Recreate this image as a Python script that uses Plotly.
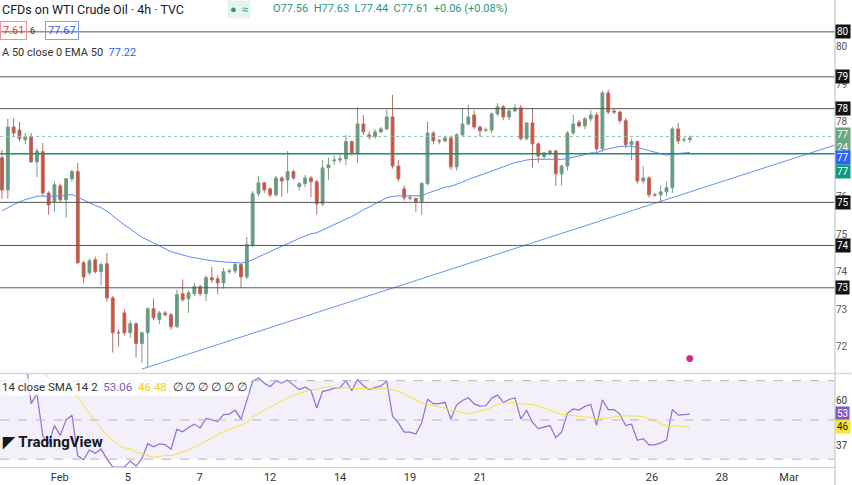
import numpy as np
import pandas as pd
import plotly.graph_objects as go

opens = [77.04,76.18,77.86,77.78,77.52,77.60,76.93,77.20,76.10,75.87,76.29,75.92,76.48,76.67,74.24,73.97,74.32,74.00,74.21,73.30,
         72.37,72.90,72.37,72.61,72.08,72.37,73.01,72.72,72.90,72.85,72.53,73.41,73.28,73.41,73.60,73.41,73.84,73.81,73.70,74.00,
         74.02,74.19,73.86,74.72,76.08,76.37,76.21,76.05,76.50,76.45,76.67,76.27,76.35,76.50,76.40,75.81,76.77,76.96,76.98,77.01,
         77.47,77.15,77.94,77.65,77.60,77.73,77.81,78.13,76.82,76.21,75.97,75.95,75.87,76.35,77.70,77.49,77.49,77.57,76.80,77.65,
         77.94,78.18,77.86,77.78,77.78,78.21,78.40,78.13,78.29,78.37,77.55,77.97,77.41,77.07,77.17,77.22,76.61,76.82,77.70,77.99,
         77.89,78.08,78.18,77.28,78.77,78.29,78.26,78.03,77.39,77.47,76.42,76.50,76.05,76.05,76.13,76.24,77.81,77.52,77.52]
closes = [76.18,77.86,77.70,77.55,77.60,76.93,77.22,76.10,75.78,76.32,75.92,76.48,76.67,74.24,73.86,74.29,74.00,74.19,73.30,72.37,
          72.37,72.37,72.61,72.08,72.37,73.01,72.77,72.90,72.85,72.53,73.39,73.25,73.44,73.60,73.41,73.84,73.78,73.70,74.00,74.02,
          74.19,73.86,74.72,76.08,76.37,76.18,76.05,76.50,76.42,76.67,76.50,76.35,76.50,76.40,75.81,76.77,76.85,76.98,77.01,77.47,
          77.15,77.94,77.73,77.60,77.73,77.81,78.13,76.82,76.48,75.97,75.97,75.87,76.35,77.70,77.49,77.49,77.57,76.80,77.65,77.94,
          78.13,77.86,77.76,77.78,78.21,78.40,78.13,78.29,78.37,77.55,77.97,77.41,77.09,77.17,77.22,76.61,76.82,77.70,77.94,77.89,
          78.08,78.18,77.28,78.77,78.26,78.26,78.03,77.39,77.47,76.42,76.50,76.05,76.05,76.13,76.24,77.81,77.49,77.52,77.57]
highs = [77.25,78.08,78.10,78.00,77.70,77.70,77.30,77.44,76.15,76.40,76.35,76.50,76.72,76.90,74.30,74.35,74.40,74.25,74.50,73.35,
         72.45,72.99,72.70,72.65,72.40,73.05,73.28,72.95,72.95,72.90,73.52,73.79,73.50,73.70,73.65,73.90,74.13,73.90,74.10,74.08,
         74.24,74.22,74.93,76.15,76.56,76.40,76.25,76.56,76.55,77.22,76.72,76.40,76.58,76.55,76.45,76.98,77.04,77.10,77.10,77.65,
         77.50,78.40,78.18,77.75,77.80,77.86,78.32,78.72,76.98,76.30,76.05,75.98,76.40,78.00,77.75,77.55,77.63,77.63,77.70,78.37,
         78.45,78.30,77.90,77.85,78.25,78.50,78.45,78.35,78.48,78.45,77.99,78.37,77.45,77.20,77.25,77.25,76.85,77.75,78.18,78.05,
         78.13,78.30,78.25,78.83,78.85,78.35,78.30,78.10,77.55,77.50,76.82,76.55,76.10,76.30,76.40,77.86,77.97,77.60,77.63]
lows = [75.95,75.95,77.60,77.47,77.40,76.90,76.53,76.00,75.52,75.60,75.85,75.44,76.40,74.20,73.70,73.90,73.95,73.65,73.20,71.84,
        72.00,72.30,72.24,71.71,71.57,71.44,72.70,72.60,72.80,72.45,72.50,73.20,72.90,73.35,73.35,73.22,73.70,73.40,73.55,73.95,
        73.95,73.57,73.80,74.65,76.00,76.10,75.98,76.00,76.00,76.10,76.45,76.16,76.25,75.99,75.52,75.75,76.45,76.85,76.90,76.85,
        77.10,76.90,77.65,77.52,77.55,77.70,77.78,76.75,76.40,75.90,75.90,75.60,75.52,76.30,77.40,77.40,77.45,76.72,76.70,77.60,
        77.90,77.80,77.60,77.72,77.70,78.15,78.05,78.05,78.25,77.50,77.50,76.77,76.90,77.00,77.10,76.29,76.30,76.70,77.65,77.85,
        77.80,78.00,77.20,77.20,78.20,78.20,77.95,77.30,76.98,76.35,76.35,75.98,76.00,75.87,76.02,76.10,77.40,77.45,77.44]

level_prices = [80.40, 79.20, 78.35, 75.85, 74.70, 73.57]
level_labels = ["80", "79", "78", "75", "74", "73"]
teal_level = 77.15
last_price = 77.61
ema_seed = 75.60
trend_idx = [24, 142.9]
trend_price = [71.40, 77.38]
date_idx = [9.9, 21.6, 33.9, 46.0, 58.0, 70.0, 82.0, 111.5, 123.5, 135.0]
date_labels = ["Feb", "5", "7", "12", "14", "19", "21", "26", "28", "Mar"]

n = len(closes)
x = np.arange(n)

k = 2 / 51
ema = []
prev = ema_seed
for c in closes:
    prev = prev + k * (c - prev)
    ema.append(prev)

s = pd.Series(closes)
d = s.diff().fillna(0)
g = d.clip(lower=0).ewm(alpha=1/14, adjust=True).mean()
l = (-d.clip(upper=0)).ewm(alpha=1/14, adjust=True).mean()
rsi = 100 - 100 / (1 + g / l.replace(0, np.nan))
rsi = rsi.bfill()
rsi_sma = rsi.rolling(14, min_periods=1).mean()

GREEN = "#5f9e7c"
RED = "#d94b34"
FONT = "Roboto"

fig = go.Figure()
fig.add_trace(go.Candlestick(
    x=x, open=opens, high=highs, low=lows, close=closes, yaxis="y",
    increasing=dict(line=dict(color="#7a9a88", width=1), fillcolor=GREEN),
    decreasing=dict(line=dict(color="#b0706a", width=1), fillcolor=RED),
    whiskerwidth=0, showlegend=False, hoverinfo="skip"))
fig.add_trace(go.Scatter(x=x, y=ema, mode="lines", line=dict(color="#5b8cf5", width=1), yaxis="y", showlegend=False))
fig.add_trace(go.Scatter(x=trend_idx, y=trend_price, mode="lines", line=dict(color="#6a93f0", width=1), yaxis="y", showlegend=False))
fig.add_trace(go.Scatter(x=x, y=rsi, mode="lines", line=dict(color="#8e6fd8", width=1.2), yaxis="y2", showlegend=False))
fig.add_trace(go.Scatter(x=x, y=rsi_sma, mode="lines", line=dict(color="#f4e23c", width=1), yaxis="y2", showlegend=False))

shapes = []
X0, X1 = -0.34, 142.9
for p in level_prices:
    shapes.append(dict(type="line", xref="x", yref="y", x0=X0, x1=X1, y0=p, y1=p, line=dict(color="#555555", width=1)))
shapes.append(dict(type="line", xref="x", yref="y", x0=X0, x1=X1, y0=teal_level, y1=teal_level, line=dict(color="#17907a", width=1.5)))
shapes.append(dict(type="line", xref="x", yref="y", x0=X0, x1=X1, y0=last_price, y1=last_price, line=dict(color="#8fbfa5", width=1, dash="dot")))
shapes.append(dict(type="rect", xref="paper", yref="y2", x0=0, x1=1, y0=30, y1=70, fillcolor="rgba(126,87,194,0.09)", line=dict(width=0), layer="below"))
for v in [70, 50, 30]:
    shapes.append(dict(type="line", xref="paper", yref="y2", x0=0, x1=1, y0=v, y1=v, line=dict(color="#b5b5c0", width=1, dash="dash")))
shapes.append(dict(type="line", xref="paper", yref="paper", x0=0, x1=1.02, y0=0.2, y1=0.2, line=dict(color="#d6d6dc", width=1.5)))
shapes.append(dict(type="line", xref="paper", yref="paper", x0=1, x1=1, y0=-0.05, y1=1, line=dict(color="#d0d0d0", width=1.5)))

ann = []
def box(y, yref, text, bg, fg="white"):
    ann.append(dict(x=1.0, xref="paper", y=y, yref=yref, text=text, showarrow=False, xanchor="left",
                    font=dict(family=FONT, size=10, color=fg), bgcolor=bg, borderpad=1))
for p, t in zip(level_prices, level_labels):
    box(p, "y", t, "#131313")
box(77.50, "y", "77<br>24", "#6aa584")
box(77.05, "y", "77", "#2962ff")
box(76.68, "y", "77", "#0f9a80")
box(53.06, "y2", "53", "#7e57c2")
box(46.48, "y2", "46", "#f7e33b", "#222")

ann += [
    dict(x=0.0, y=1.0, xref="paper", yref="paper", xanchor="left", yanchor="top", showarrow=False, align="left",
         text="CFDs on WTI Crude Oil · 4h · TVC", font=dict(family=FONT, size=12.5, color="#131722")),
    dict(x=0.272, y=0.999, xref="paper", yref="paper", xanchor="left", yanchor="top", showarrow=False,
         text="●  ≈", font=dict(family=FONT, size=11, color="#1e9e86"), bgcolor="#e6f4f0", borderpad=2),
    dict(x=0.325, y=1.0, xref="paper", yref="paper", xanchor="left", yanchor="top", showarrow=False,
         text="O77.56  H77.63  L77.44  C77.61  +0.06 (+0.08%)", font=dict(family=FONT, size=11, color="#1f9a7c")),
    dict(x=0.0, y=0.955, xref="paper", yref="paper", xanchor="left", yanchor="top", showarrow=False,
         text="7.61", font=dict(family=FONT, size=11, color="#e04040"), bordercolor="#f09090", borderwidth=1, borderpad=2),
    dict(x=0.033, y=0.949, xref="paper", yref="paper", xanchor="left", yanchor="top", showarrow=False,
         text="6", font=dict(family=FONT, size=9, color="#333")),
    dict(x=0.054, y=0.955, xref="paper", yref="paper", xanchor="left", yanchor="top", showarrow=False,
         text="77.67", font=dict(family=FONT, size=11, color="#2962ff"), bordercolor="#7fa0f5", borderwidth=1, borderpad=2),
    dict(x=0.0, y=0.905, xref="paper", yref="paper", xanchor="left", yanchor="top", showarrow=False,
         text="A 50 close 0 EMA 50  <span style='color:#2962ff'>77.22</span>", font=dict(family=FONT, size=11, color="#333")),
    dict(x=0.0, y=0.19, xref="paper", yref="paper", xanchor="left", yanchor="top", showarrow=False,
         text="14 close SMA 14 2  <span style='color:#7e57c2'>53.06</span>  <span style='color:#e8d21d'>46.48</span>  ∅ ∅ ∅ ∅ ∅ ∅",
         font=dict(family=FONT, size=11.5, color="#333"), bgcolor="rgba(255,255,255,0.8)"),
    dict(x=0.0, y=0.03, xref="paper", yref="paper", xanchor="left", yanchor="bottom", showarrow=False,
         text="<b>◤ TradingView</b>", font=dict(family=FONT, size=15, color="#131722")),
    dict(x=0.826, y=0.235, xref="paper", yref="paper", xanchor="center", yanchor="middle", showarrow=False,
         text="●", font=dict(family=FONT, size=16, color="#c8307a")),
]

fig.update_layout(
    width=852, height=485, margin=dict(l=0, r=17, t=0, b=18, pad=0),
    paper_bgcolor="white", plot_bgcolor="white",
    font=dict(family=FONT, size=10, color="#333"),
    xaxis=dict(range=[X0, X1], anchor="y2", automargin=False, tickvals=date_idx, ticktext=date_labels, showgrid=False, zeroline=False,
               rangeslider=dict(visible=False), ticks="", showline=True, linecolor="#cfcfcf", tickfont=dict(size=11, color="#333")),
    yaxis=dict(domain=[0.2, 1], range=[71.28, 81.25], side="right", automargin=False, showgrid=False, zeroline=False,
               tickvals=[72, 73, 74, 75, 76, 77, 78, 79, 80], ticks="", tickfont=dict(size=10, color="#555")),
    yaxis2=dict(domain=[0, 0.2], range=[26, 73.6], side="right", automargin=False, showgrid=False, zeroline=False,
                tickvals=[37, 60], ticks="", tickfont=dict(size=10, color="#333")),
    shapes=shapes, annotations=ann,
)
fig.write_html("out.html", config={"displayModeBar": False},
               post_script="document.body.style.margin='0';document.body.style.overflow='hidden';")
